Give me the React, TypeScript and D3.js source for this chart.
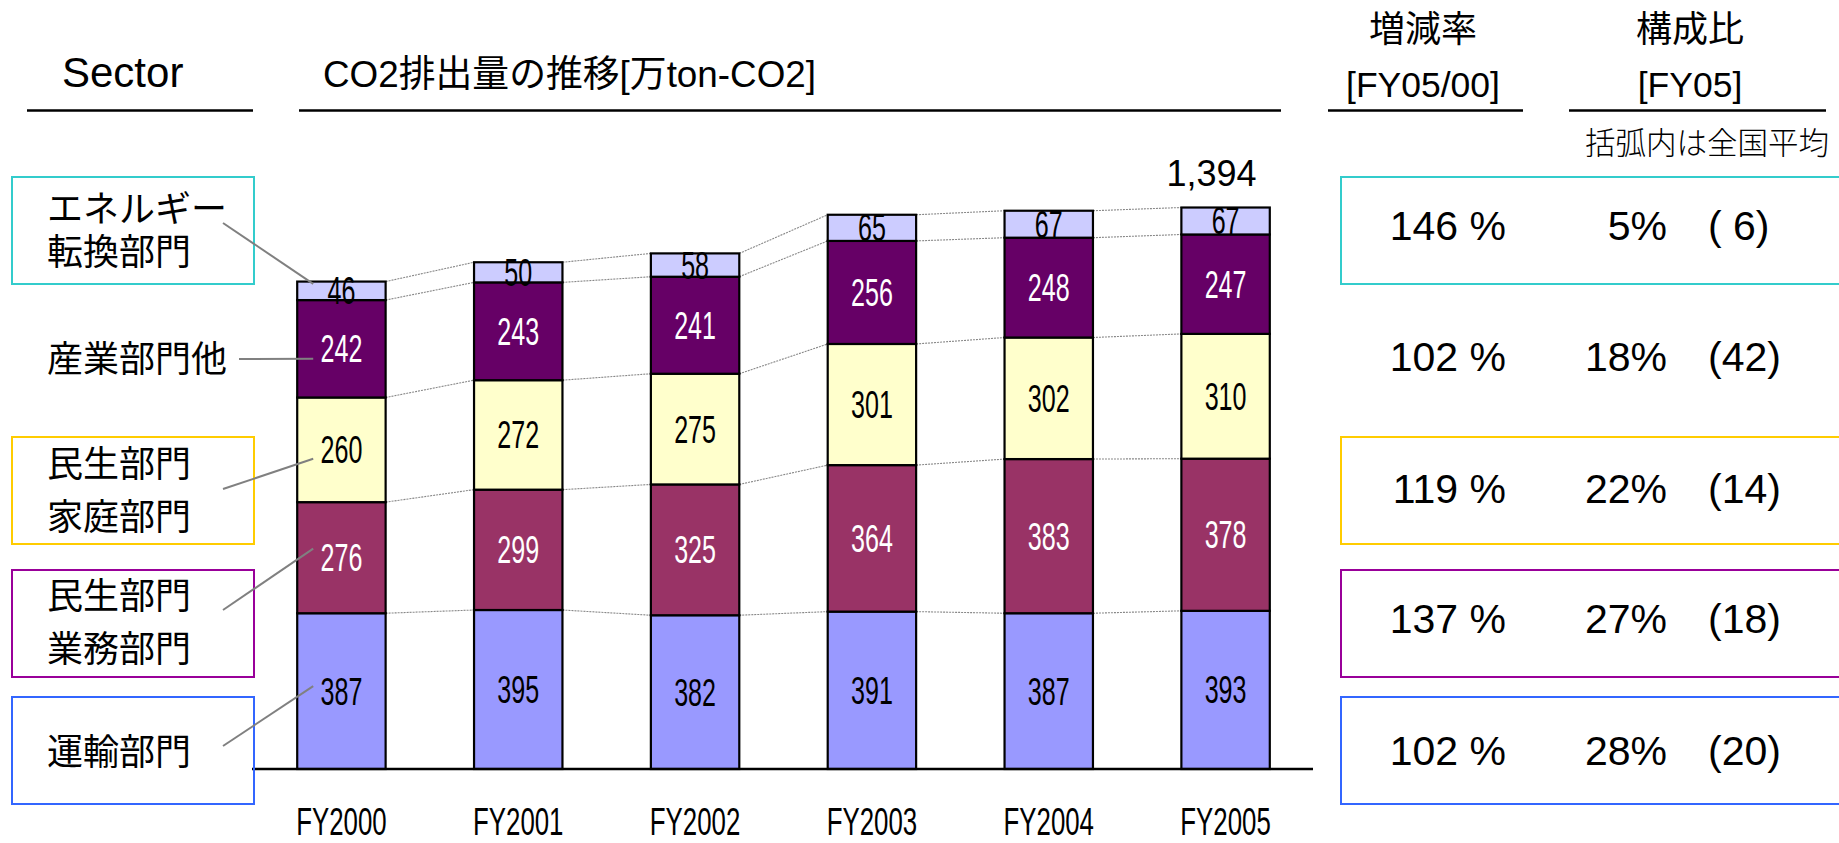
import React, { useEffect, useRef } from 'react';
import * as d3 from 'd3';

// CO2 emissions by sector [万ton-CO2]
const years = ['FY2000', 'FY2001', 'FY2002', 'FY2003', 'FY2004', 'FY2005'];
const transport = [387, 395, 382, 391, 387, 393];
const business = [276, 299, 325, 364, 383, 378];
const household = [260, 272, 275, 301, 302, 310];
const industry = [242, 243, 241, 256, 248, 247];
const energy = [46, 50, 58, 65, 67, 67];
const totalLabel = '1,394';

// table on the right, top row first
const sectorNames = [['エネルギー', '転換部門'], ['産業部門他'], ['民生部門', '家庭部門'], ['民生部門', '業務部門'], ['運輸部門']];
const growthRates = ['146 %', '102 %', '119 %', '137 %', '102 %'];
const shares = ['5%', '18%', '22%', '27%', '28%'];
const nationalAvg = ['( 6)', '(42)', '(14)', '(18)', '(20)'];

const LATIN = '"Liberation Sans", Arial, sans-serif';
const JP = '"Liberation Sans", "Noto Sans CJK JP", sans-serif';

export default function App() {
  const ref = useRef<SVGSVGElement>(null);

  useEffect(() => {
    document.body.style.margin = '0';
    const width = 1839;
    const height = 843;
    const svg = d3.select(ref.current);
    svg.selectAll('*').remove();
    svg.attr('width', width).attr('height', height);

    const keys = ['transport', 'business', 'household', 'industry', 'energy'];
    const fills: Record<string, string> = {
      transport: '#9999ff',
      business: '#993366',
      household: '#ffffcc',
      industry: '#660066',
      energy: '#ccccff',
    };
    const labelFill: Record<string, string> = {
      transport: '#000', business: '#fff', household: '#000', industry: '#fff', energy: '#000',
    };

    const rows = years.map((year, i) => ({
      year,
      transport: transport[i],
      business: business[i],
      household: household[i],
      industry: industry[i],
      energy: energy[i],
    }));
    const stacked = d3.stack<any>().keys(keys)(rows);

    const x = d3.scaleBand().domain(years).range([253, 1314]).paddingInner(0.5).paddingOuter(0.25);
    const y = d3.scaleLinear().domain([0, 1500]).range([769, 769 - 0.4025 * 1500]);
    const bw = x.bandwidth();

    // header
    svg.append('text').attr('x', 62).attr('y', 87).attr('font-family', LATIN).attr('font-size', 42).text('Sector');
    svg.append('text').attr('x', 323).attr('y', 87).attr('font-family', JP).attr('font-size', 37)
      .attr('textLength', 493).attr('lengthAdjust', 'spacingAndGlyphs').text('CO2排出量の推移[万ton-CO2]');
    const rules = [[27, 253], [299, 1281], [1328, 1523], [1569, 1826]];
    rules.forEach(([a, b]) => {
      svg.append('line').attr('x1', a).attr('x2', b).attr('y1', 110.5).attr('y2', 110.5)
        .attr('stroke', '#000').attr('stroke-width', 2.5);
    });
    [[1423, '増減率', '[FY05/00]'], [1690, '構成比', '[FY05]']].forEach(([cx, a, b]) => {
      svg.append('text').attr('x', cx).attr('y', 42).attr('text-anchor', 'middle')
        .attr('font-family', JP).attr('font-size', 36).text(a as string);
      svg.append('text').attr('x', cx).attr('y', 96.5).attr('text-anchor', 'middle')
        .attr('font-family', LATIN).attr('font-size', 35.5).text(b as string);
    });
    svg.append('text').attr('x', 1585).attr('y', 154).attr('font-family', JP).attr('font-weight', 300)
      .attr('font-size', 30.5).text('括弧内は全国平均');

    // connector lines between bars
    const conn = svg.append('g').attr('stroke', '#888').attr('stroke-width', 1.1)
      .attr('stroke-dasharray', '2,1').attr('fill', 'none');
    stacked.forEach((s) => {
      for (let i = 0; i < s.length - 1; i++) {
        conn.append('line')
          .attr('x1', x(years[i])! + bw).attr('y1', y(s[i][1]))
          .attr('x2', x(years[i + 1])!).attr('y2', y(s[i + 1][1]));
      }
    });

    // bars
    const bars = svg.append('g');
    stacked.forEach((s) => {
      bars.selectAll(null).data(s).enter().append('rect')
        .attr('x', (d: any) => x(d.data.year)!)
        .attr('y', (d) => y(d[1]))
        .attr('width', bw)
        .attr('height', (d) => y(d[0]) - y(d[1]))
        .attr('fill', fills[s.key])
        .attr('stroke', '#000')
        .attr('stroke-width', 2.2);
    });

    // value labels, narrow digits
    stacked.forEach((s) => {
      s.forEach((d: any) => {
        const cx = x(d.data.year)! + bw / 2;
        const cy = (y(d[0]) + y(d[1])) / 2 + 13.5;
        svg.append('g').attr('transform', `translate(${cx},${cy}) scale(0.66,1)`)
          .append('text').attr('text-anchor', 'middle').attr('font-family', LATIN).attr('font-size', 38)
          .attr('fill', labelFill[s.key]).text(d.data[s.key]);
      });
    });

    // total on last bar
    const last = stacked[stacked.length - 1][years.length - 1];
    svg.append('text').attr('x', x(years[years.length - 1])! + bw / 2 - 14).attr('y', y(last[1]) - 22)
      .attr('text-anchor', 'middle').attr('font-family', LATIN).attr('font-size', 36).text(totalLabel);

    // axis
    svg.append('line').attr('x1', 252).attr('x2', 1313).attr('y1', 769).attr('y2', 769)
      .attr('stroke', '#000').attr('stroke-width', 2.5);
    years.forEach((yr) => {
      svg.append('g').attr('transform', `translate(${x(yr)! + bw / 2},835) scale(0.68,1)`)
        .append('text').attr('text-anchor', 'middle').attr('font-family', LATIN).attr('font-size', 38).text(yr);
    });

    // sector boxes and table rows, top row first (energy ... transport)
    const order = ['energy', 'industry', 'household', 'business', 'transport'];
    const boxColor = ['#33cccc', null, '#ffcc00', '#990099', '#3366ff'];
    const boxTop = [177, null, 437, 570, 697];
    const textBase = [[222, 265], [372], [477, 530], [609, 662], [765]];
    const rowBase = [240, 371, 503, 633, 765];
    const leadStart = [[223, 223], [239, 359], [223, 489], [223, 610], [223, 746]];
    const leadDy = [-7, 10, 9, -9, -5];

    order.forEach((key, r) => {
      if (boxTop[r] !== null) {
        svg.append('rect').attr('x', 12).attr('y', boxTop[r]!).attr('width', 242).attr('height', 107)
          .attr('fill', 'none').attr('stroke', boxColor[r]!).attr('stroke-width', 2);
        svg.append('rect').attr('x', 1341).attr('y', boxTop[r]!).attr('width', 600).attr('height', 107)
          .attr('fill', 'none').attr('stroke', boxColor[r]!).attr('stroke-width', 2);
      }
      sectorNames[r].forEach((t, j) => {
        svg.append('text').attr('x', 47).attr('y', textBase[r][j]).attr('font-family', JP)
          .attr('font-size', 36).text(t);
      });
      const seg = stacked.find((s) => s.key === key)![0];
      svg.append('line')
        .attr('x1', leadStart[r][0]).attr('y1', leadStart[r][1])
        .attr('x2', x(years[0])! + 16).attr('y2', (y(seg[0]) + y(seg[1])) / 2 + leadDy[r])
        .attr('stroke', '#808080').attr('stroke-width', 2);

      svg.append('text').attr('x', 1506).attr('y', rowBase[r]).attr('text-anchor', 'end')
        .attr('font-family', LATIN).attr('font-size', 41).text(growthRates[r]);
      svg.append('text').attr('x', 1667).attr('y', rowBase[r]).attr('text-anchor', 'end')
        .attr('font-family', LATIN).attr('font-size', 41).text(shares[r]);
      svg.append('text').attr('x', 1708).attr('y', rowBase[r])
        .attr('font-family', LATIN).attr('font-size', 41).attr('xml:space', 'preserve')
        .style('white-space', 'pre').text(nationalAvg[r]);
    });
  }, []);

  return (
    <div style={{ position: 'absolute', left: 0, top: 0 }}>
      <svg ref={ref}></svg>
    </div>
  );
}
